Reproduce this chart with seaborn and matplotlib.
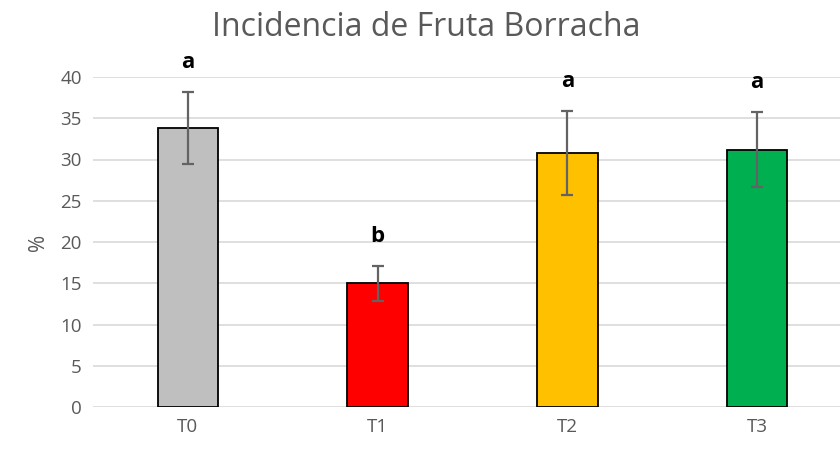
import seaborn as sns
import pandas as pd
import matplotlib.pyplot as plt

# Datos
tratamientos = ['T0', 'T1', 'T2', 'T3']
incidencia = [33.8, 15.0, 30.8, 31.2]
error = [4.4, 2.1, 5.1, 4.5]
letras = ['a', 'b', 'a', 'a']
colores = ['#BFBFBF', '#FF0000', '#FFC000', '#00B050']

df = pd.DataFrame({'Tratamiento': tratamientos, 'Incidencia': incidencia})

sns.set_style('white')
plt.rcParams['font.family'] = ['Open Sans', 'DejaVu Sans']

fig = plt.figure(figsize=(8.4, 4.51), dpi=100)
ax = fig.add_axes([93 / 840, 44 / 451, 759 / 840, 330 / 451])

sns.barplot(data=df, x='Tratamiento', y='Incidencia', hue='Tratamiento',
            palette=colores, saturation=1, width=0.32, edgecolor='black',
            linewidth=1.3, legend=False, ax=ax)
ax.errorbar(range(len(tratamientos)), incidencia, yerr=error, fmt='none',
            ecolor='#636363', elinewidth=1.6, capsize=4, capthick=1.6, zorder=5)

# Letras de significancia
for i, (v, e, l) in enumerate(zip(incidencia, error, letras)):
    ax.text(i, v + e + 3.6, l, ha='center', va='center', fontsize=16,
            fontweight='bold', color='black')

ax.set_xlim(-0.5, len(tratamientos) - 0.5)
ax.set_ylim(0, 40)
ax.set_yticks(range(0, 41, 5))
ax.yaxis.grid(True, color='#D9D9D9', linewidth=1.2)
ax.set_axisbelow(True)
for s in ax.spines.values():
    s.set_visible(False)
ax.tick_params(axis='both', colors='#595959', labelsize=13.5, length=0, pad=8)
ax.set_xlabel('')
ax.set_ylabel('%', color='#595959', fontsize=15, labelpad=8)
fig.text(0.508, 0.94, 'Incidencia de Fruta Borracha', ha='center', va='center',
         fontsize=23, color='#595959')

fig.savefig('out.png', dpi=100)
